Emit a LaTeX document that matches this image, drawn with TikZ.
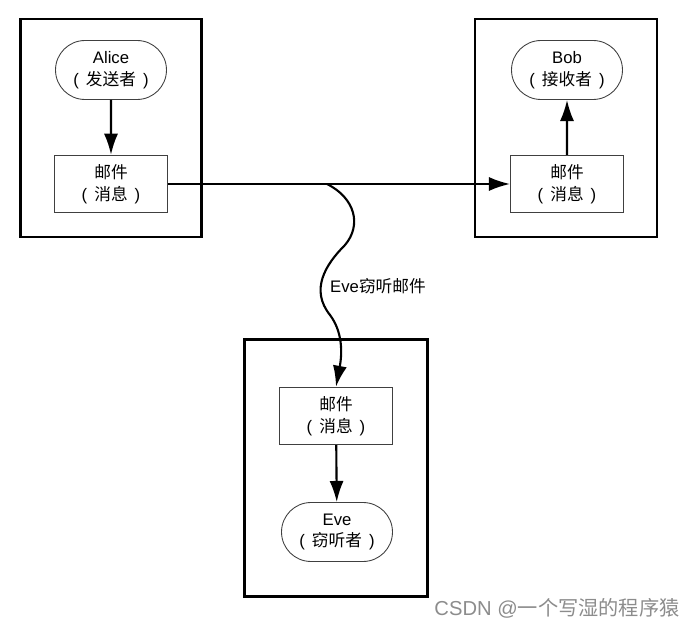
\documentclass[tikz,border=0pt]{standalone}
\usepackage{fontspec}
\setmainfont{Liberation Sans}
\newfontfamily\cjk{Noto Sans CJK SC}
\usetikzlibrary{shapes,arrows.meta}
\newcommand{\rolename}[1]{(\hspace{4pt}{\cjk #1}\hspace{4pt})}
\tikzset{frame/.style={rectangle,draw,line width=1.6pt,inner sep=0pt},
  actor/.style={rounded rectangle,draw=black!75,line width=0.5pt,minimum width=2.22cm,minimum height=1.18cm,inner sep=0pt,align=center,font=\fontsize{9.5}{12.5}\selectfont},
  mail/.style={rectangle,draw=black!75,line width=0.5pt,minimum width=2.26cm,minimum height=1.15cm,inner sep=0pt,align=center,font=\fontsize{9.5}{12.5}\selectfont}}

\begin{document}
\begin{tikzpicture}[x=0.02cm,y=-0.02cm,>={Latex[length=12pt,width=8pt]},line width=1.2pt]
    \useasboundingbox (0,0) rectangle (687,628);

    \node[frame,minimum width=3.62cm,minimum height=4.36cm] (fa) at (111,128) {};
    \node[frame,minimum width=3.64cm,minimum height=4.36cm] (fb) at (566,128) {};
    \node[frame,minimum width=3.66cm,minimum height=5.13cm] (fe) at (336,468) {};

    \node[actor] (alice) at (111,70) {Alice\\\rolename{发送者}};
    \node[mail] (am) at (111,184) {{\cjk 邮件}\\\rolename{消息}};
    \node[actor] (bob) at (567,70) {Bob\\\rolename{接收者}};
    \node[mail] (bm) at (567,184) {{\cjk 邮件}\\\rolename{消息}};
    \node[mail] (evm) at (336,416) {{\cjk 邮件}\\\rolename{消息}};
    \node[actor] (eve) at (337,532) {Eve\\\rolename{窃听者}};
    \node[font=\fontsize{9.5}{12.5}\selectfont] (tapl) at (378,286) {Eve{\cjk 窃听邮件}};
    \node[text=black!45,font=\fontsize{11.5}{13}\selectfont] (wm) at (557,608) {CSDN @{\cjk 一个写湿的程序猿}};

    \coordinate (tap) at (327,184);

    \draw [->] (alice) to (am);
    \draw [->] (bm) to (bob);
    \draw [->] (am) to (bm);
    \draw [->] (evm) to (eve);
    \draw [->] (tap) .. controls (355,198) and (362,225) .. (345,245)
        .. controls (325,265) and (310,290) .. (330,315)
        .. controls (345,335) and (341,360) .. (evm.north);
\end{tikzpicture}
\end{document}
